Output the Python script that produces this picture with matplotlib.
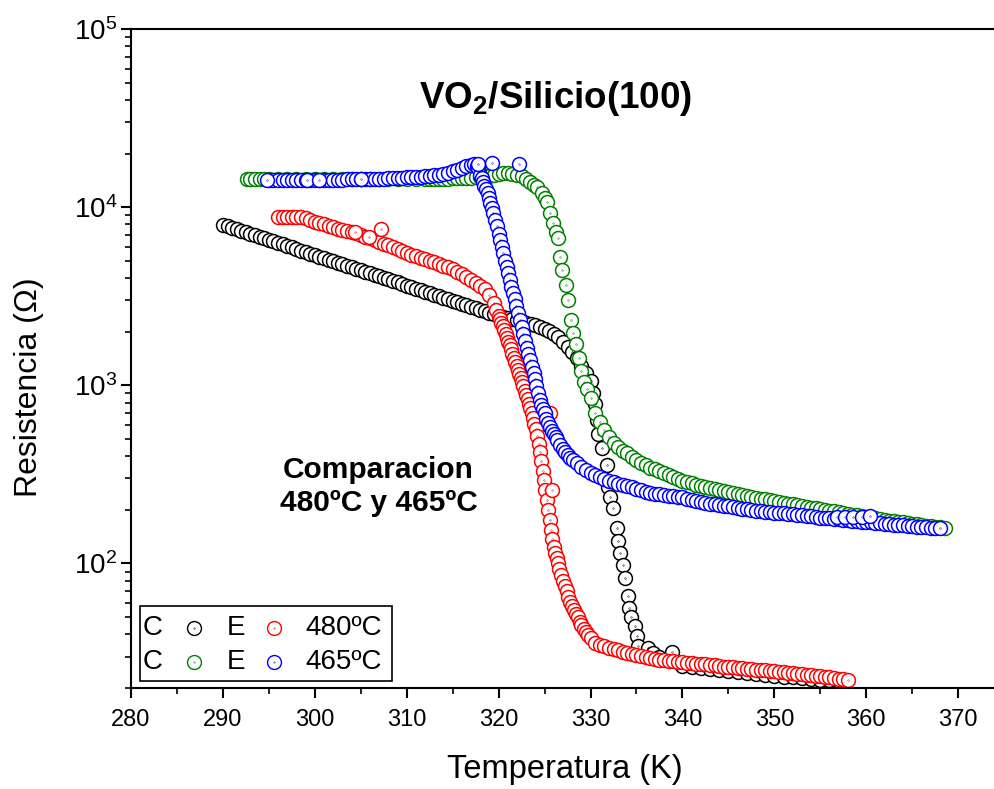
import matplotlib
matplotlib.use("Agg")
import matplotlib.pyplot as plt
from matplotlib.path import Path
from matplotlib.patches import Rectangle
from matplotlib.ticker import LogLocator, NullFormatter, MultipleLocator

plt.rcParams['font.family'] = ['Liberation Sans', 'DejaVu Sans']
plt.rcParams['mathtext.fontset'] = 'custom'
plt.rcParams['mathtext.rm'] = 'Liberation Sans'
plt.rcParams['mathtext.bf'] = 'Liberation Sans:bold'

# === data (T in K, R in ohm) ===
# C 480ºC (black)
t_c480 = [290.0, 290.5, 291.0, 291.5, 292.0, 292.5, 293.0, 293.5, 294.0, 294.5,
          295.0, 295.5, 296.0, 296.5, 297.0, 297.5, 298.0, 298.5, 299.0, 299.5,
          300.0, 300.5, 301.0, 301.5, 302.0, 302.5, 303.0, 303.5, 304.0, 304.5,
          305.0, 305.5, 306.0, 306.5, 307.0, 307.5, 308.0, 308.5, 309.0, 309.5,
          310.0, 310.5, 311.0, 311.5, 312.0, 312.5, 313.0, 313.5, 314.0, 314.5,
          315.0, 315.5, 316.0, 316.5, 317.0, 317.5, 318.0, 318.5, 319.0, 319.5,
          320.0, 320.5, 321.0, 321.5, 322.0, 322.5, 323.0, 323.5, 324.0, 324.5,
          325.0, 325.5, 326.0, 326.5, 327.0, 327.5, 328.0, 328.5, 329.0, 329.5,
          330.0, 330.3, 330.5, 330.7, 330.8, 331.3, 331.8, 331.9, 332.1, 332.4,
          332.9, 333.0, 333.2, 333.5, 333.8, 334.1, 334.2, 334.4, 334.8, 335.1,
          335.2, 336.2, 336.8, 337.5, 338.5, 340.0, 341.0, 342.0, 343.0, 344.0,
          345.0, 346.0, 347.0, 348.0, 349.0, 350.0, 351.0, 352.0, 353.0, 354.0,
          355.0, 356.0, 357.0, 357.5, 338.9]
r_c480 = [7980, 7820, 7670, 7520, 7380, 7230, 7090, 6950, 6820, 6680,
          6550, 6430, 6300, 6180, 6060, 5940, 5820, 5710, 5600, 5490,
          5380, 5280, 5180, 5070, 4980, 4880, 4780, 4690, 4600, 4510,
          4420, 4340, 4250, 4170, 4090, 4010, 3930, 3850, 3780, 3700,
          3630, 3560, 3490, 3420, 3360, 3290, 3230, 3160, 3100, 3040,
          2980, 2920, 2870, 2810, 2760, 2700, 2650, 2600, 2550, 2500,
          2450, 2410, 2380, 2350, 2320, 2290, 2250, 2210, 2170, 2120,
          2070, 2010, 1950, 1870, 1760, 1640, 1530, 1420, 1290, 1170,
          1060, 900, 790, 640, 530, 443, 356, 267, 235, 204,
          159, 133, 114, 97.5, 83.4, 65.3, 56.6, 49.8, 44.3, 39.4,
          34.2, 33.7, 31.6, 30.0, 29.0, 26.5, 26.1, 25.8, 25.5, 25.2,
          24.9, 24.6, 24.3, 24.0, 23.7, 23.5, 23.2, 23.0, 22.7, 22.5,
          22.3, 22.1, 21.9, 21.7, 32.0]

# E 480ºC (red)
t_e480 = [296.0, 296.5, 297.0, 297.5, 298.0, 298.5, 299.0, 299.5, 300.0, 300.5,
          301.0, 301.5, 302.0, 302.5, 303.0, 303.5, 304.0, 304.5, 305.0, 305.5,
          306.0, 306.5, 307.0, 307.5, 308.0, 308.5, 309.0, 309.5, 310.0, 310.5,
          311.0, 311.5, 312.0, 312.5, 313.0, 313.5, 314.0, 314.5, 315.0, 315.5,
          316.0, 316.5, 317.0, 317.5, 318.0, 318.5, 319.0, 319.5, 319.75, 320.0,
          320.15, 320.3, 320.45, 320.6, 320.75, 320.9, 321.05, 321.2, 321.35, 321.5,
          321.65, 321.8, 321.95, 322.1, 322.25, 322.4, 322.55, 322.7, 322.85, 323.0,
          323.15, 323.3, 323.45, 323.6, 323.75, 323.9, 324.05, 324.2, 324.35, 324.5,
          324.65, 324.8, 324.95, 325.1, 325.25, 325.4, 325.55, 325.7, 325.85, 326.0,
          326.15, 326.3, 326.45, 326.6, 326.8, 327.0, 327.2, 327.4, 327.6, 327.8,
          328.0, 328.2, 328.4, 328.6, 328.8, 329.0, 329.25, 329.5, 329.75, 330.0,
          330.5, 331.0, 331.5, 332.0, 332.5, 333.0, 333.5, 334.0, 334.5, 335.0,
          335.5, 336.0, 336.5, 337.0, 337.5, 338.0, 338.5, 339.0, 339.5, 340.0,
          340.5, 341.0, 341.5, 342.0, 342.5, 343.0, 343.5, 344.0, 344.5, 345.0,
          345.5, 346.0, 346.5, 347.0, 347.5, 348.0, 348.5, 349.0, 349.5, 350.0,
          350.5, 351.0, 351.5, 352.0, 352.5, 353.0, 353.5, 354.0, 354.5, 355.0,
          355.5, 356.0, 356.5, 357.0, 357.5, 358.0,
          304.4, 305.9, 307.2, 325.6, 325.8]
r_e480 = [8850, 8850, 8830, 8800, 8780, 8750, 8650, 8500, 8300, 8150,
          8000, 7850, 7700, 7580, 7470, 7360, 7250, 7120, 6980, 6820,
          6680, 6530, 6390, 6250, 6100, 5960, 5810, 5680, 5550, 5420,
          5290, 5190, 5100, 5010, 4930, 4820, 4700, 4590, 4470, 4330,
          4190, 4060, 3900, 3750, 3620, 3450, 3200, 2880, 2650, 2450,
          2350, 2250, 2150, 2050, 1950, 1850, 1760, 1680, 1590, 1500,
          1420, 1350, 1280, 1220, 1160, 1100, 1040, 990, 930, 880,
          835, 790, 745, 700, 655, 610, 565, 520, 470, 420,
          375, 330, 295, 260, 228, 200, 176, 155, 138, 123,
          115, 108, 100, 93, 86, 80, 75, 70, 65, 61,
          58, 55, 52, 50, 47, 45, 43, 41, 39.5, 38,
          36.0, 35.0, 34.2, 33.5, 33.0, 32.5, 32.0, 31.6, 31.1, 30.7,
          30.3, 29.9, 29.5, 29.2, 28.9, 28.7, 28.5, 28.3, 28.1, 27.9,
          27.7, 27.6, 27.4, 27.3, 27.1, 27.0, 26.8, 26.6, 26.4, 26.3,
          26.1, 26.0, 25.8, 25.7, 25.5, 25.4, 25.2, 25.1, 24.9, 24.8,
          24.6, 24.5, 24.3, 24.2, 24.0, 23.9, 23.7, 23.6, 23.4, 23.3,
          23.1, 23.0, 22.8, 22.6, 22.4, 22.2,
          7300, 6800, 7500, 697, 257]

# C 465ºC (green)
t_c465 = [292.6, 293.0, 293.5, 294.0, 294.5, 295.0, 296.0, 297.0, 298.0, 299.0,
          300.0, 301.0, 302.0, 303.0, 304.0, 305.0, 306.0, 307.0, 308.0, 309.0,
          310.0, 311.0, 312.0, 312.5, 313.0, 313.5, 314.0, 314.5, 315.0, 315.5,
          316.0, 316.5, 317.0, 317.5, 318.0, 318.5, 319.0, 319.5, 320.0, 320.5,
          321.0, 321.5, 322.0, 322.5, 323.0, 323.4, 323.8, 324.2, 324.7, 325.0,
          325.3, 325.6, 325.9, 326.2, 326.5, 326.7, 326.9, 327.3, 327.6, 327.9,
          328.1, 328.4, 328.7, 329.0, 329.3, 329.6, 330.0, 330.5, 331.0, 331.5,
          332.0, 332.5, 333.0, 333.5, 334.0, 334.5, 335.0, 335.5, 336.0, 336.5,
          337.0, 337.5, 338.0, 338.5, 339.0, 339.5, 340.0, 340.5, 341.0, 341.5,
          342.0, 342.5, 343.0, 343.5, 344.0, 344.5, 345.0, 345.5, 346.0, 346.5,
          347.0, 347.5, 348.0, 348.5, 349.0, 349.5, 350.0, 350.5, 351.0, 351.5,
          352.0, 352.5, 353.0, 353.5, 354.0, 354.5, 355.0, 355.5, 356.0, 356.5,
          357.0, 357.5, 358.0, 358.5, 359.0, 359.5, 360.0, 360.5, 361.0, 361.5,
          362.0, 362.5, 363.0, 363.5, 364.0, 364.5, 365.0, 365.5, 366.0, 366.5,
          367.0, 367.5, 368.0, 368.6]
r_c465 = [14400, 14400, 14400, 14400, 14400, 14400, 14400, 14400, 14400, 14400,
          14400, 14400, 14400, 14400, 14400, 14400, 14400, 14400, 14400, 14400,
          14400, 14400, 14400, 14420, 14440, 14450, 14450, 14480, 14500, 14520,
          14550, 14600, 14650, 14720, 14800, 14900, 15000, 15200, 15400, 15500,
          15500, 15400, 15200, 14900, 14300, 13800, 13300, 12900, 12000, 11300,
          10700, 9250, 8130, 7300, 6700, 5240, 4430, 3650, 3000, 2320,
          1960, 1700, 1420, 1210, 1050, 950, 845, 700, 620, 560,
          510, 475, 450, 430, 415, 395, 380, 368, 355, 345,
          337, 330, 322, 315, 305, 298, 292, 287, 283, 277,
          272, 268, 265, 261, 258, 255, 252, 248, 245, 242,
          240, 237, 234, 231, 229, 226, 224, 221, 219, 217,
          215, 212, 210, 208, 206, 204, 202, 200, 198, 196,
          194, 192, 190, 188, 186, 184, 182, 180, 179, 177,
          176, 174, 173, 171, 170, 168, 167, 166, 165, 163,
          162, 161, 160, 159]

# E 465ºC (blue)
t_e465 = [295.0, 295.5, 296.0, 296.5, 297.0, 297.5, 298.0, 298.5, 299.0, 299.5,
          300.0, 300.5, 301.0, 301.5, 302.0, 302.5, 303.0, 303.5, 304.0, 304.5,
          305.0, 305.5, 306.0, 306.5, 307.0, 307.5, 308.0, 308.5, 309.0, 309.5,
          310.0, 310.5, 311.0, 311.5, 312.0, 312.5, 313.0, 313.5, 314.0, 314.5,
          315.0, 315.5, 316.0, 316.5, 317.0, 317.3, 317.6, 317.8, 318.0, 318.15,
          318.3, 318.45, 318.6, 318.8, 318.95, 319.1, 319.25, 319.4, 319.6, 319.8,
          320.0, 320.2, 320.35, 320.5, 320.7, 320.9, 321.05, 321.2, 321.4, 321.6,
          321.75, 321.9, 322.1, 322.3, 322.5, 322.7, 322.9, 323.1, 323.25, 323.4,
          323.6, 323.8, 323.95, 324.1, 324.3, 324.5, 324.65, 324.8, 325.0, 325.2,
          325.4, 325.6, 325.8, 326.0, 326.2, 326.4, 326.7, 327.0, 327.25, 327.5,
          327.8, 328.1, 328.5, 329.0, 329.5, 330.0, 330.5, 331.0, 331.5, 332.0,
          332.5, 333.0, 333.5, 334.0, 334.5, 335.0, 335.5, 336.0, 336.5, 337.0,
          337.5, 338.0, 338.5, 339.0, 339.5, 340.0, 340.5, 341.0, 341.5, 342.0,
          342.5, 343.0, 343.5, 344.0, 344.5, 345.0, 345.5, 346.0, 346.5, 347.0,
          347.5, 348.0, 348.5, 349.0, 349.5, 350.0, 350.5, 351.0, 351.5, 352.0,
          352.5, 353.0, 353.5, 354.0, 354.5, 355.0, 355.5, 356.0, 356.5, 357.0,
          357.5, 358.0, 358.5, 359.0, 359.5, 360.0, 360.5, 361.0, 361.5, 362.0,
          362.5, 363.0, 363.5, 364.0, 364.5, 365.0, 365.5, 366.0, 366.5, 367.0,
          367.5, 368.0,
          294.8, 299.2, 300.5, 305.0, 317.8, 319.3, 322.2,
          356.8, 357.7, 358.6, 359.5, 360.4]
r_e465 = [14200, 14200, 14200, 14200, 14200, 14200, 14200, 14200, 14200, 14200,
          14200, 14200, 14200, 14250, 14250, 14250, 14250, 14300, 14300, 14300,
          14300, 14320, 14350, 14380, 14400, 14450, 14500, 14550, 14600, 14650,
          14700, 14750, 14800, 14850, 14900, 15000, 15100, 15250, 15400, 15650,
          15900, 16200, 16600, 17000, 17300, 17400, 17000, 16500, 15200, 14500,
          13800, 13200, 12600, 12000, 11200, 10500, 9900, 9250, 8500, 7800,
          7100, 6530, 6000, 5500, 5000, 4600, 4250, 3900, 3550, 3290,
          3050, 2800, 2550, 2320, 2130, 1950, 1780, 1630, 1500, 1380,
          1270, 1170, 1080, 990, 900, 824, 780, 740, 695, 650,
          615, 581, 555, 530, 510, 491, 465, 440, 422, 405,
          392, 379, 365, 350, 335, 322, 313, 305, 298, 292,
          286, 281, 276, 271, 268, 262, 257, 253, 250, 247,
          244, 242, 240, 238, 236, 235, 231, 228, 225, 222,
          219, 217, 215, 213, 211, 209, 207, 205, 203, 201,
          199, 198, 196, 195, 194, 193, 192, 191, 190, 189,
          187, 186, 185, 184, 182, 181, 180, 179, 178, 177,
          176, 175, 174, 173, 172, 171, 170, 169, 168, 167,
          166, 165, 164.5, 164, 163, 162, 161, 160, 159.5, 159,
          158.5, 158,
          14200, 14200, 14200, 14400, 17500, 17700, 17500,
          183, 183, 183, 183, 184]

series = [
    (t_c480, r_c480, 'black'),
    (t_e480, r_e480, 'red'),
    (t_c465, r_c465, '#008000'),
    (t_e465, r_e465, 'blue'),
]

# open circle with a tiny centre dot, like Origin draws it
ring = Path.make_compound_path(Path.unit_circle(), Path.circle((0, 0), 0.035))

fig = plt.figure(figsize=(9.94, 7.89), dpi=100)
ax = fig.add_axes([131 / 994, 1 - 688 / 789, 863 / 994, 659 / 789])

for t, r, c in series:
    ax.plot(t, r, linestyle='none', marker=ring, markersize=10,
            markerfacecolor='white', markeredgecolor=c, markeredgewidth=1.1)

ax.set_yscale('log')
ax.set_xlim(280, 373.9)
ax.set_ylim(20, 1e5)

ax.xaxis.set_major_locator(MultipleLocator(10))
ax.xaxis.set_minor_locator(MultipleLocator(5))
ax.yaxis.set_major_locator(LogLocator(base=10))
ax.yaxis.set_minor_locator(LogLocator(base=10, subs=range(2, 10)))
ax.yaxis.set_minor_formatter(NullFormatter())

for s in ['left', 'bottom', 'top']:
    ax.spines[s].set_linewidth(1.5)
ax.spines['right'].set_visible(False)
ax.tick_params(which='major', direction='out', length=7, width=1.5,
               top=False, right=False)
ax.tick_params(which='minor', direction='out', length=4, width=1.2,
               top=False, right=False)
ax.tick_params(axis='x', labelsize=17, pad=8)
ax.tick_params(axis='y', labelsize=20, pad=3)

ax.set_xlabel('Temperatura (K)', fontsize=23.5)
ax.set_ylabel('Resistencia (\u03a9)', fontsize=23)
ax.xaxis.set_label_coords(0.503, -0.1)
ax.yaxis.set_label_coords(-0.101, 0.457)

ax.text(0.4925, 0.895, 'VO$_\\mathbf{2}$/Silicio(100)', transform=ax.transAxes,
        ha='center', va='center', fontsize=26.5, fontweight='bold')
ax.text(0.287, 0.306, 'Comparacion\n480\u00baC y 465\u00baC', transform=ax.transAxes,
        ha='center', va='center', fontsize=21.5, fontweight='bold', linespacing=1.25)

# Origin-style legend box
ax.add_patch(Rectangle((0.0104, 0.0106), 0.292, 0.1138, transform=ax.transAxes,
                       facecolor='white', edgecolor='black', linewidth=1.2, zorder=5))
rows = [(0.091, 'black', 'red', '480\u00baC'), (0.0395, '#008000', 'blue', '465\u00baC')]
for y, c1, c2, lab in rows:
    ax.text(0.0139, y, 'C', transform=ax.transAxes, va='center', fontsize=20, zorder=6)
    ax.plot([0.073], [y], transform=ax.transAxes, marker=ring, markersize=10,
            markerfacecolor='white', markeredgecolor=c1, markeredgewidth=1.0,
            linestyle='none', zorder=6)
    ax.text(0.111, y, 'E', transform=ax.transAxes, va='center', fontsize=20, zorder=6)
    ax.plot([0.1657], [y], transform=ax.transAxes, marker=ring, markersize=10,
            markerfacecolor='white', markeredgecolor=c2, markeredgewidth=1.0,
            linestyle='none', zorder=6)
    ax.text(0.2016, y, lab, transform=ax.transAxes, va='center', fontsize=20, zorder=6)

fig.savefig('out.png', dpi=100)
